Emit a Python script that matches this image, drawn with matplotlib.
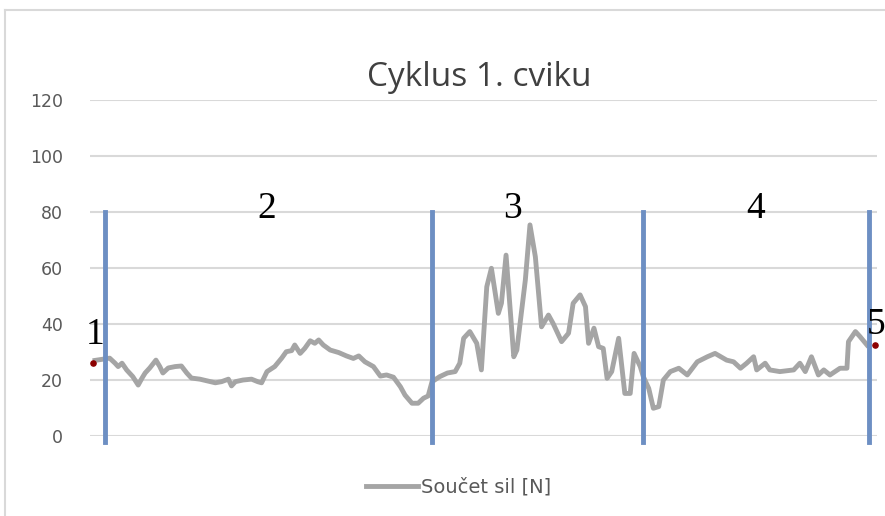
import matplotlib.pyplot as plt
from matplotlib.lines import Line2D

# průběh součtu sil během cyklu (osa x = % cyklu)
t_pct = [0.0, 1.9, 2.6, 3.0, 3.5, 4.1, 4.9, 5.6, 6.1, 6.5, 7.1, 7.9, 8.4, 8.8, 9.5,
         10.4, 11.2, 11.9, 12.5, 13.6, 14.7, 15.6, 16.4, 17.3, 17.7, 18.2, 19.2, 20.3,
         21.1, 21.6, 22.3, 23.3, 24.2, 24.8, 25.5, 25.9, 26.6, 27.2, 27.9, 28.5, 29.0,
         29.6, 30.5, 31.6, 32.6, 33.5, 34.2, 35.0, 36.1, 37.0, 37.8, 38.7, 39.6, 40.2,
         41.1, 41.9, 42.6, 43.2, 43.7, 44.7, 45.7, 46.7, 47.3, 47.8, 48.6, 49.5, 50.1,
         50.8, 51.4, 52.3, 52.7, 53.3, 54.3, 54.7, 55.8, 56.4, 57.1, 57.9, 58.8, 59.4,
         60.5, 61.4, 62.0, 62.9, 63.6, 64.0, 64.7, 65.3, 65.9, 66.4, 67.0, 67.9, 68.7,
         69.4, 69.9, 70.7, 71.1, 71.8, 72.4, 73.1, 73.7, 74.6, 75.7, 76.8, 78.1, 79.4,
         80.4, 81.9, 82.8, 83.7, 84.5, 85.4, 85.8, 86.9, 87.5, 88.8, 90.6, 91.4, 92.1,
         92.9, 93.8, 94.5, 95.3, 96.6, 97.5, 97.7, 98.6, 99.2, 100.1]
sila = [27.0, 27.8, 26.0, 24.8, 26.0, 23.6, 21.2, 18.2, 20.7, 22.5, 24.3, 27.1, 24.8, 22.5, 24.3,
        24.8, 25.0, 22.5, 20.7, 20.3, 19.6, 19.0, 19.4, 20.3, 17.9, 19.4, 20.0, 20.3,
        19.4, 19.0, 23.0, 24.8, 27.8, 30.1, 30.5, 32.5, 29.5, 31.3, 34.0, 33.1, 34.3,
        32.5, 30.7, 29.8, 28.6, 27.7, 28.6, 26.5, 24.8, 21.4, 21.8, 21.0, 17.6, 14.6,
        11.7, 11.7, 13.5, 14.3, 19.4, 21.2, 22.5, 23.0, 26.0, 34.9, 37.3, 33.1, 23.6,
        53.3, 59.9, 43.8, 47.4, 64.6, 28.3, 30.7, 55.7, 75.4, 64.0, 39.0, 43.2, 40.2,
        33.7, 36.7, 47.4, 50.4, 46.2, 33.1, 38.5, 31.9, 31.3, 20.6, 23.0, 34.9, 15.2,
        15.2, 29.5, 24.8, 21.2, 17.0, 9.9, 10.5, 20.0, 23.0, 24.2, 21.8, 26.5, 28.3,
        29.5, 27.1, 26.5, 24.2, 26.0, 28.3, 23.6, 26.0, 23.6, 23.0, 23.6, 26.0, 23.0,
        28.3, 21.8, 23.6, 21.8, 24.2, 24.2, 33.7, 37.3, 35.5, 32.5]

# hranice fází cyklu a body 1 a 5
hranice = [1.3, 43.7, 71.1, 100.3]
body_x = [-0.3, 101.2]
body_y = [26.0, 32.5]
popisky = ["1", "2", "3", "4", "5"]
popisky_x = [0.0, 22.3, 54.2, 85.7, 101.3]
popisky_y = [33.0, 77.8, 77.8, 77.8, 36.5]

fig = plt.figure(figsize=(8.85, 5.16), dpi=100)
ax = fig.add_axes([90 / 885, 80 / 516, 787 / 885, 336 / 516])

ax.set_xlim(-0.65, 101.4)
ax.set_ylim(0, 120)
ax.set_yticks(range(0, 121, 20))
ax.set_xticks([])
ax.grid(axis="y", color="#d9d9d9", linewidth=1.5)
ax.set_axisbelow(True)
for s in ax.spines.values():
    s.set_visible(False)
ax.tick_params(axis="y", length=0, pad=19.5, labelsize=12.5, labelcolor="#595959")

ax.plot(t_pct, sila, color="#a5a5a5", linewidth=3.5, solid_joinstyle="round", zorder=3)

for x in hranice:
    ax.plot([x, x], [-2.2, 80], color="#6d8fc3", linewidth=3.5, clip_on=False, zorder=4)

ax.scatter(body_x, body_y, s=14, color="#8b0000", zorder=5, clip_on=False)

for txt, x, y in zip(popisky, popisky_x, popisky_y):
    ax.text(x, y, txt, ha="center", va="baseline", fontsize=27,
            family="Liberation Serif", clip_on=False, zorder=6)

fig.text(0.541, 0.850, "Cyklus 1. cviku", ha="center", va="center", fontsize=24,
         color="#404040", family="Open Sans")

leg = [Line2D([0], [0], color="#a5a5a5", lw=3.5, label="Součet sil [N]")]
fig.legend(handles=leg, loc="center", bbox_to_anchor=(0.518, 0.056), frameon=False,
           fontsize=14, handlelength=2.7, handletextpad=0.15, labelcolor="#595959")

# okraj grafu (jen horní a levá hrana jsou vidět)
fig.add_artist(Line2D([5 / 885, 1], [1 - 10 / 516, 1 - 10 / 516], color="#d9d9d9", lw=1.5))
fig.add_artist(Line2D([5 / 885, 5 / 885], [0, 1 - 10 / 516], color="#d9d9d9", lw=1.5))

fig.savefig("out.png", dpi=100)
